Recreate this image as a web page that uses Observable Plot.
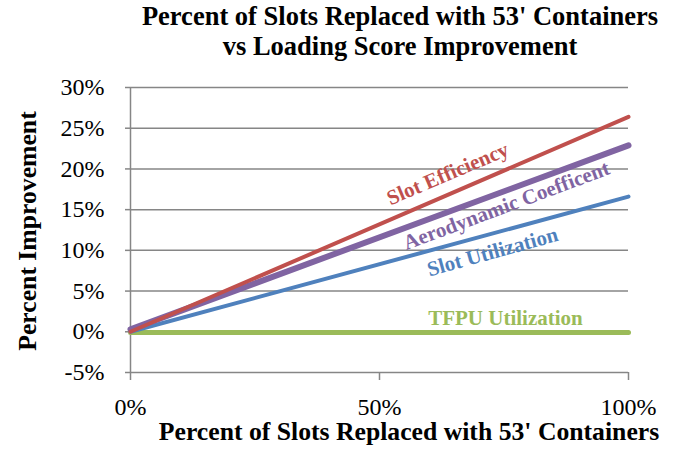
<!DOCTYPE html>
<html>
<head>
<meta charset="utf-8">
<script src="https://cdn.jsdelivr.net/npm/d3@7"></script>
<script src="https://cdn.jsdelivr.net/npm/@observablehq/plot@0.6"></script>
<style>
  body { margin: 0; background: #fff; }
  #wrap { position: relative; width: 693px; height: 450px; font-family: "Liberation Serif", "Times New Roman", serif; overflow: hidden; }
  #title { position: absolute; top: 1px; left: 100px; width: 600px; text-align: center; font-weight: bold; font-size: 26.5px; line-height: 30px; color: #000; white-space: nowrap; }
  #xtitle { position: absolute; top: 421px; left: 109px; width: 600px; text-align: center; font-weight: bold; font-size: 25.7px; line-height: 22px; color: #000; white-space: nowrap; }
  #ytitle { position: absolute; left: 28px; top: 231px; transform: translate(-50%, -50%) rotate(-90deg); white-space: nowrap; font-weight: bold; font-size: 25.7px; line-height: 30px; color: #000; }
  svg { position: absolute; left: 0; top: 0; }
</style>
</head>
<body>
<div id="wrap">
  <div id="chart"></div>
  <div id="title">Percent of Slots Replaced with 53' Containers<br>vs Loading Score Improvement</div>
  <div id="ytitle">Percent Improvement</div>
  <div id="xtitle">Percent of Slots Replaced with 53' Containers</div>
</div>
<script>
// Data
const xs = [0, 1];
const slotEfficiency = [0, 0.264];
const aeroCoefficient = [0.003, 0.229];
const slotUtilization = [0, 0.166];
const tfpuUtilization = [-0.001, -0.001];

const seriesNames = ["Slot Efficiency", "Aerodynamic Coefficent", "Slot Utilization", "TFPU Utilization"];
const seriesColors = ["#C0504D", "#8064A2", "#4F81BD", "#9BBB59"];
const seriesValues = [slotEfficiency, aeroCoefficient, slotUtilization, tfpuUtilization];

const yTicks = [-0.05, 0, 0.05, 0.10, 0.15, 0.20, 0.25, 0.30];
const xTicks = [0, 0.5, 1];

// Label anchor positions (data coordinates)
const labelX = [0.637, 0.755, 0.727, 0.753];
const labelY = [0.194, 0.155, 0.098, 0.016];
const labelRotate = [-23, -20.5, -15.5, 0];

const lineData = [];
seriesNames.forEach((name, i) => {
  xs.forEach((x, j) => lineData.push({series: name, x, y: seriesValues[i][j]}));
});
const labelData = seriesNames.map((name, i) => ({name, x: labelX[i], y: labelY[i], rotate: labelRotate[i], color: seriesColors[i]}));
const widths = {"Slot Efficiency": 4, "Aerodynamic Coefficent": 6, "Slot Utilization": 4, "TFPU Utilization": 5};

const pct = d3.format(".0%");
const fmt = d => pct(d).replace("\u2212", "-");

const plot = Plot.plot({
  width: 693,
  height: 450,
  marginTop: 87,
  marginBottom: 78,
  marginLeft: 130,
  marginRight: 65,
  style: {fontFamily: "Liberation Serif, Times New Roman, serif", fontSize: "24px", color: "#000", background: "transparent"},
  x: {domain: [0, 1]},
  y: {domain: [-0.05, 0.30]},
  marks: [
    Plot.ruleY(yTicks.filter(d => d > -0.05), {stroke: "#868686", strokeWidth: 1.5}),
    Plot.ruleX([0], {stroke: "#868686", strokeWidth: 1.5}),
    Plot.ruleY([-0.05], {stroke: "#868686", strokeWidth: 1.5}),
    Plot.axisY({ticks: yTicks, tickFormat: fmt, tickSize: 5, tickPadding: 21, stroke: "#868686", strokeWidth: 1.5, label: null, fontSize: 24, fill: "#000"}),
    Plot.axisX({ticks: xTicks, tickFormat: fmt, tickSize: 8, tickPadding: 17, stroke: "#868686", strokeWidth: 1.5, label: null, fontSize: 24, fill: "#000"}),
    ...seriesNames.slice().reverse().map(name =>
      Plot.line(lineData.filter(d => d.series === name), {x: "x", y: "y", stroke: seriesColors[seriesNames.indexOf(name)], strokeWidth: widths[name]})
    ),
    ...labelData.map(d => Plot.text([d], {x: "x", y: "y", text: "name", rotate: d.rotate, fill: d.color, fontWeight: "bold", fontSize: 21}))
  ]
});
document.getElementById("chart").appendChild(plot);
</script>
</body>
</html>
